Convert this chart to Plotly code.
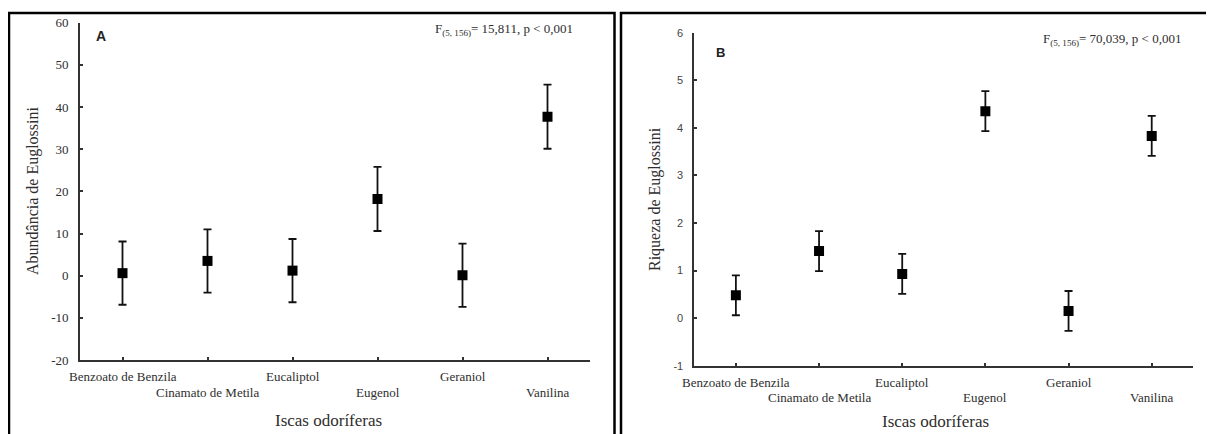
import plotly.graph_objects as go

# page body has an 8px margin; the figure is sized so it fills the 1214x434 window
OFF = 8
W, H = 1214 - OFF, 434 - OFF

categories = ["Benzoato de Benzila", "Cinamato de Metila", "Eucaliptol",
              "Eugenol", "Geraniol", "Vanilina"]

abund_mean = [0.6, 3.5, 1.2, 18.2, 0.1, 37.7]
abund_err = [7.5, 7.5, 7.5, 7.6, 7.5, 7.6]

riq_mean = [0.48, 1.41, 0.93, 4.35, 0.15, 3.83]
riq_err = [0.42, 0.42, 0.42, 0.42, 0.42, 0.42]

abund_ticks = [-20, -10, 0, 10, 20, 30, 40, 50, 60]
riq_ticks = [-1, 0, 1, 2, 3, 4, 5, 6]


def px(x):
    return (x - OFF) / W


def py(y):
    return 1 - (y - OFF) / H


SERIF = "Liberation Serif"
TXT = "#2e2e2e"
AX = "#333333"

fig = go.Figure()

fig.add_trace(go.Scatter(
    x=categories, y=abund_mean, mode="markers",
    marker=dict(symbol="square", size=10, color="black"),
    error_y=dict(type="data", array=abund_err, color="#111111", thickness=1.8, width=4),
    xaxis="x", yaxis="y", showlegend=False))

fig.add_trace(go.Scatter(
    x=categories, y=riq_mean, mode="markers",
    marker=dict(symbol="square", size=10, color="black"),
    error_y=dict(type="data", array=riq_err, color="#111111", thickness=1.8, width=4),
    xaxis="x2", yaxis="y2", showlegend=False))

xcommon = dict(type="category", categoryorder="array", categoryarray=categories,
               range=[-0.5, 5.5], tickvals=categories, showticklabels=False,
               automargin=False,
               showline=True, linecolor=AX, linewidth=1.8, showgrid=False, zeroline=False,
               ticks="inside", ticklen=3, tickcolor=AX, tickwidth=1.5)
ycommon = dict(showline=True, linecolor=AX, linewidth=1.8, showgrid=False, zeroline=False,
               ticks="inside", ticklen=3, tickcolor=AX, tickwidth=1.5, automargin=False,
               ticklabelstandoff=7)

fig.update_layout(
    width=W, height=H,
    margin=dict(l=0, r=0, t=0, b=0),
    paper_bgcolor="white", plot_bgcolor="white",
    xaxis=dict(domain=[px(80), px(590)], anchor="y", **xcommon),
    yaxis=dict(domain=[py(360), py(22.7)], anchor="x", range=[-20, 60],
               tickvals=abund_ticks, ticktext=[str(v) for v in abund_ticks],
               tickfont=dict(family=SERIF, size=13, color=TXT), **ycommon),
    xaxis2=dict(domain=[px(694.3), px(1193.3)], anchor="y2", **xcommon),
    yaxis2=dict(domain=[py(365.7), py(32.7)], anchor="x2", range=[-1, 6],
                tickvals=riq_ticks, ticktext=[str(v) for v in riq_ticks],
                tickfont=dict(family="Liberation Sans", size=11, color="#444444"), **ycommon),
)

C = dict(xanchor="center", yanchor="middle", showarrow=False)
ann = []
# alternating category labels
for i, c in enumerate(categories):
    ann.append(dict(text=c, x=c, xref="x", y=py(376.7 if i % 2 == 0 else 392.3), yref="paper",
                    font=dict(family=SERIF, size=13, color=TXT), **C))
    ann.append(dict(text=c, x=c, xref="x2", y=py(382 if i % 2 == 0 else 397), yref="paper",
                    font=dict(family=SERIF, size=13, color=TXT), **C))
ann.append(dict(text="<b>A</b>", x=px(101), y=py(36), xref="paper", yref="paper",
                font=dict(family="Liberation Sans", size=14, color="#222222"), **C))
ann.append(dict(text="<b>B</b>", x=px(720), y=py(52), xref="paper", yref="paper",
                font=dict(family="Liberation Sans", size=13, color="#222222"), **C))
ann.append(dict(text="F<sub>(5, 156)</sub>= 15,811, p &lt; 0,001", x=px(504), y=py(29),
                xref="paper", yref="paper",
                font=dict(family=SERIF, size=13, color=TXT), **C))
ann.append(dict(text="F<sub>(5, 156)</sub>= 70,039, p &lt; 0,001", x=px(1112), y=py(39),
                xref="paper", yref="paper",
                font=dict(family=SERIF, size=13, color=TXT), **C))
ann.append(dict(text="Abundância de Euglossini", x=px(33), y=py(191), textangle=-90,
                xref="paper", yref="paper",
                font=dict(family=SERIF, size=16, color=TXT), **C))
ann.append(dict(text="Riqueza de Euglossini", x=px(655), y=py(199), textangle=-90,
                xref="paper", yref="paper",
                font=dict(family=SERIF, size=16, color=TXT), **C))
ann.append(dict(text="Iscas odoríferas", x=px(328), y=py(420),
                xref="paper", yref="paper",
                font=dict(family=SERIF, size=17, color=TXT), **C))
ann.append(dict(text="Iscas odoríferas", x=px(935), y=py(421.7),
                xref="paper", yref="paper",
                font=dict(family=SERIF, size=17, color=TXT), **C))
fig.update_layout(annotations=ann)

fig.add_shape(type="rect", xref="paper", yref="paper",
              x0=px(9), x1=px(614.5), y0=py(460), y1=py(13),
              line=dict(color="black", width=2.5))
fig.add_shape(type="rect", xref="paper", yref="paper",
              x0=px(621), x1=px(1240), y0=py(460), y1=py(13),
              line=dict(color="black", width=2.5))

fig.write_html("out.html")
